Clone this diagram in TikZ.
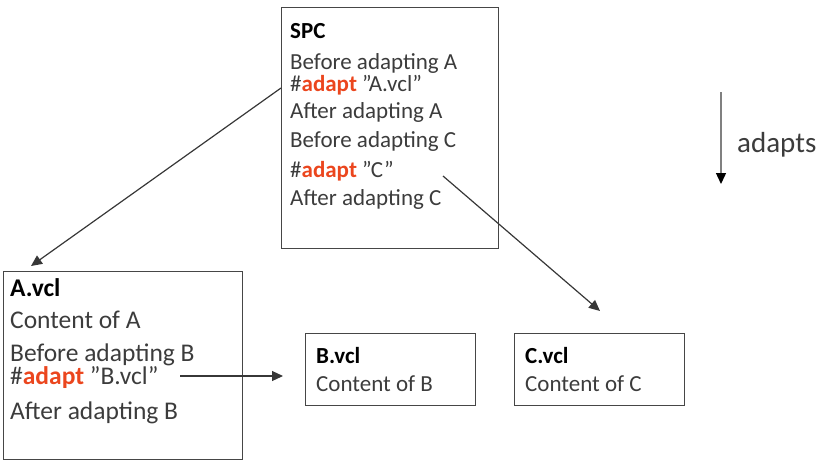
\documentclass[tikz,border=0pt]{standalone}
\usepackage{fontspec}
\setmainfont{Carlito}
\usetikzlibrary{arrows.meta}
\definecolor{boxline}{RGB}{70,70,70}
\definecolor{txt}{RGB}{60,60,60}
\definecolor{adred}{RGB}{235,70,30}
\definecolor{arr}{RGB}{55,55,55}
\newcommand{\ad}{\textcolor{adred}{\textbf{adapt}}}
\tikzset{
  box/.style={draw=boxline, line width=1.4pt},
  ln/.style={anchor=base west, inner sep=0pt, text=txt},
  hd/.style={anchor=base west, inner sep=0pt, text=black, font=\bfseries},
  conn/.style={draw=arr, line width=1.2pt, -{Triangle[length=11pt,width=10pt]}},
}
\begin{document}
\begin{tikzpicture}[x=1pt,y=-1pt]
\useasboundingbox (0,0) rectangle (834,471);
% boxes
\node[box, minimum width=217pt, minimum height=241pt, anchor=north west, inner sep=0pt] (spc) at (281,7) {};
\node[box, minimum width=239pt, minimum height=188pt, anchor=north west, inner sep=0pt] (avcl) at (3,271) {};
\node[box, minimum width=170pt, minimum height=72pt, anchor=north west, inner sep=0pt] (bvcl) at (305,333) {};
\node[box, minimum width=170pt, minimum height=72pt, anchor=north west, inner sep=0pt] (cvcl) at (514,333) {};
% SPC text
\begin{scope}[every node/.append style={font=\fontsize{23}{27}\selectfont}]
\node[hd, font=\fontsize{23}{27}\selectfont\bfseries] (s0) at (290,38) {SPC};
\node[ln] (s1) at (290,69) {Before adapting A};
\node[ln] (s2) at (290,91) {\#\ad{} ”A.vcl”};
\node[ln] (s3) at (290,118) {After adapting A};
\node[ln] (s4) at (290,147) {Before adapting C};
\node[ln] (s5) at (290,177) {\#\ad{} ”C”};
\node[ln] (s6) at (290,205) {After adapting C};
\end{scope}
% A.vcl text
\begin{scope}[every node/.append style={font=\fontsize{25.5}{30}\selectfont}]
\node[hd, font=\fontsize{25.5}{30}\selectfont\bfseries] (a0) at (10,296) {A.vcl};
\node[ln] (a1) at (10,328) {Content of A};
\node[ln] (a2) at (10,361) {Before adapting B};
\node[ln] (a3) at (10,384) {\#\ad{} ”B.vcl”};
\node[ln] (a4) at (10,419) {After adapting B};
\end{scope}
% B, C text
\begin{scope}[every node/.append style={font=\fontsize{23}{27}\selectfont}]
\node[hd, font=\fontsize{23}{27}\selectfont\bfseries] (b0) at (316,363) {B.vcl};
\node[ln] (b1) at (316,391) {Content of B};
\node[hd, font=\fontsize{23}{27}\selectfont\bfseries] (c0) at (525,363) {C.vcl};
\node[ln] (c1) at (525,391) {Content of C};
\end{scope}
% connectors
\coordinate (p1s) at (281,88);
\coordinate (p1e) at (31,266);
\coordinate (p2s) at (443,176);
\coordinate (p2e) at (600,311);
\coordinate (p3s) at (180,376);
\coordinate (p3e) at (283,376);
\draw[conn] (p1s) -- (p1e);
\draw[conn] (p2s) -- (p2e);
\draw[conn] (p3s) -- (p3e);
% legend
\coordinate (ls) at (721,92);
\coordinate (le) at (721,184);
\draw[draw=gray, line width=1.4pt, -{Triangle[length=11pt,width=10pt,color=black]}] (ls) -- (le);
\node[anchor=base west, inner sep=0pt, text=txt, font=\fontsize{29}{34}\selectfont] (lg) at (737,152) {adapts};
\end{tikzpicture}
\end{document}
